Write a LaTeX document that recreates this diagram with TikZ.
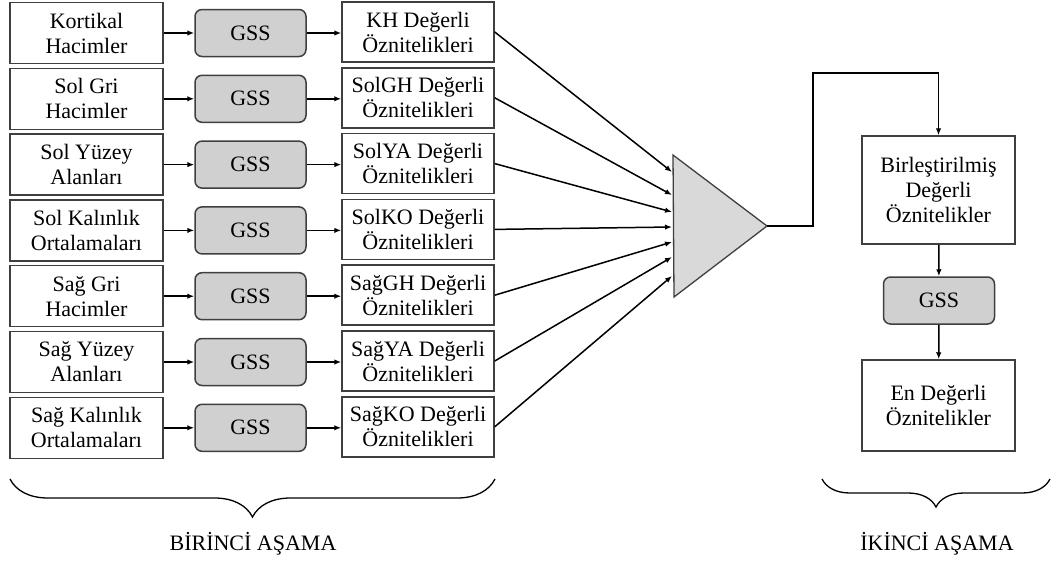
\documentclass[tikz,border=0pt]{standalone}
\usepackage{fontspec}
\setmainfont{Liberation Serif}
\usetikzlibrary{arrows.meta,decorations.pathreplacing}
\definecolor{boxgray}{HTML}{D0D0D0}
\definecolor{trigray}{HTML}{D9D9D9}
\definecolor{edgegray}{HTML}{3F3F3F}

\begin{document}
\begin{tikzpicture}[>={Latex[length=7pt,width=5.5pt]}, x=1pt, y=-1pt, font=\fontsize{22}{25}\selectfont,
	inbox/.style={draw=edgegray, line width=1.5pt, minimum width=153pt, minimum height=61pt, inner sep=0pt, align=center},
	gss/.style={draw=edgegray, fill=boxgray, line width=1.5pt, rounded corners=7pt, minimum width=111pt, minimum height=47pt, inner sep=0pt},
	link/.style={->, line width=1.5pt}]
	\useasboundingbox (0,0) rectangle (1055,563);

	% birinci asama
	\foreach \a/\b/\ty [count=\i from 0] in {Kortikal\\Hacimler/KH/172, Sol Gri\\Hacimler/SolGH/195, Sol Yüzey\\Alanları/SolYA/212, Sol Kalınlık\\Ortalamaları/SolKO/227, Sağ Gri\\Hacimler/SağGH/242, Sağ Yüzey\\Alanları/SağYA/257, Sağ Kalınlık\\Ortalamaları/SağKO/276}{
		\node[inbox] (src\i) at (86.5,{33+65.8*\i}) {\a};
		\node[gss] (gss\i) at (250.5,{33+65.8*\i}) {GSS};
		\node[inbox, minimum width=152pt, minimum height=60pt] (feat\i) at (418,{32+65.8*\i}) {\b\ Değerli\\Öznitelikleri};
		\coordinate (in\i) at (672,\ty);
		\draw[link] (src\i) -- (gss\i);
		\draw[link] (gss\i) -- (gss\i -| feat\i.west);
	}
	\draw[draw=edgegray, fill=trigray, line width=1.3pt] (673,155) -- (767,226) -- (674,297) -- cycle;
	\coordinate (out) at (767,226);
	\foreach \i in {0,...,6}
		\draw[link] (feat\i.east) -- (in\i);

	% ikinci asama
	\node[inbox, minimum height=108pt] (merged) at (938.5,190) {Birleştirilmiş\\Değerli\\Öznitelikler};
	\node[gss] (gssb) at (939,300.5) {GSS};
	\node[inbox, minimum height=91pt] (best) at (938.5,405.5) {En Değerli\\Öznitelikler};
	\draw[link] (out) -- (813,226) -- (813,73) -| (merged.north);
	\draw[link] (merged) -- (gssb);
	\draw[link] (gssb) -- (best);

	\draw[line width=1.3pt, decorate, decoration={brace, mirror, amplitude=38pt}] (10,479) -- (495,479);
	\draw[line width=1.3pt, decorate, decoration={brace, mirror, amplitude=28pt}] (822,479) -- (1050,479);
	\node (stage1) at (253,544) {BİRİNCİ AŞAMA};
	\node (stage2) at (937,544) {İKİNCİ AŞAMA};
\end{tikzpicture}
\end{document}
